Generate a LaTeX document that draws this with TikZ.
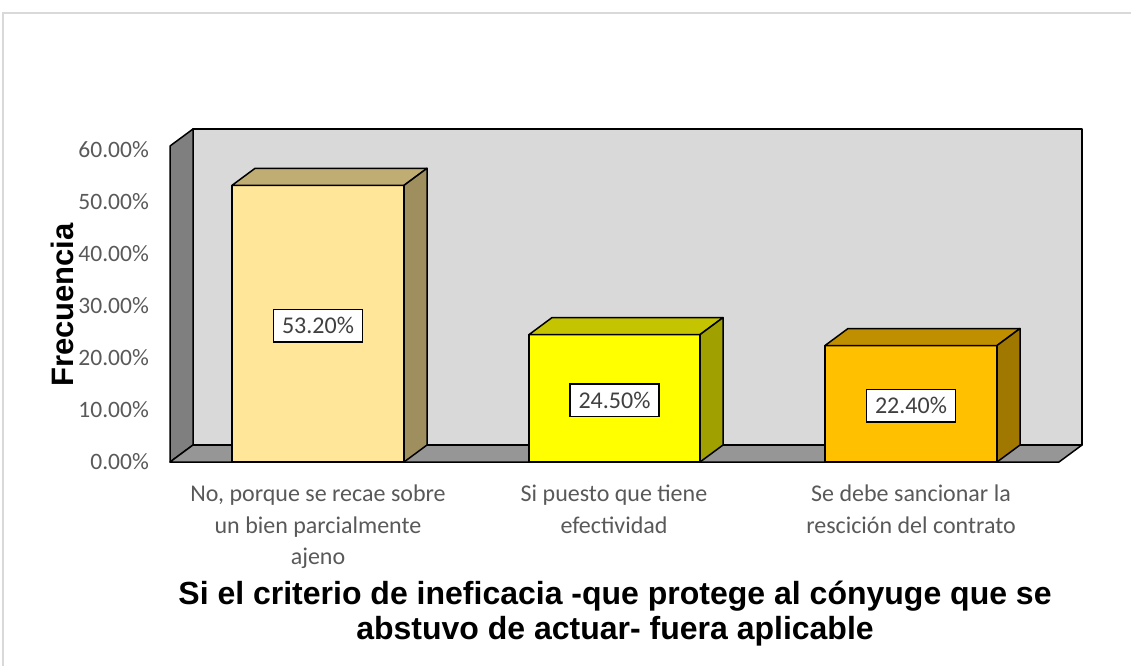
\documentclass[tikz,border=0pt]{standalone}
\usepackage{fontspec}
\setmainfont{Carlito}
\newfontfamily\arial{Liberation Sans}
\definecolor{marco}{HTML}{D9D9D9}
\definecolor{fondo}{HTML}{D9D9D9}
\definecolor{lateral}{HTML}{7F7F7F}
\definecolor{piso}{HTML}{969696}
\definecolor{gris}{HTML}{595959}
\definecolor{oscuro}{HTML}{404040}
\definecolor{unoF}{HTML}{FFE699}\definecolor{unoT}{HTML}{BFAD73}\definecolor{unoL}{HTML}{A08F5E}
\definecolor{dosF}{HTML}{FFFF00}\definecolor{dosT}{HTML}{C4C400}\definecolor{dosL}{HTML}{A0A000}
\definecolor{tresF}{HTML}{FFC000}\definecolor{tresT}{HTML}{C08F00}\definecolor{tresL}{HTML}{A07800}
\tikzset{
  borde/.style={draw=black,line width=1.5pt,line join=round},
  eje/.style={font=\fontsize{23.5}{28}\selectfont,text=gris,inner sep=0pt},
  cat/.style={font=\fontsize{24}{31.5}\selectfont,text=gris,align=center,inner sep=0pt},
  valor/.style={draw=black,line width=1.6pt,fill=white,text=oscuro,font=\fontsize{24}{28}\selectfont,inner xsep=8.5pt,inner ysep=8pt},
  titulo/.style={font=\arial\bfseries\fontsize{32}{35}\selectfont,align=center,inner sep=0pt}
}
\begin{document}
\begin{tikzpicture}[x=1pt,y=-1pt]
\useasboundingbox (0,0) rectangle (1131,666);
\draw[marco,line width=1.5pt] (3,666) -- (3,13) -- (1131,13); % borde del grafico
% paredes y piso
\draw[borde,fill=fondo] (193,129) rectangle (1082,445);
\draw[borde,fill=lateral] (170,146) -- (193,129) -- (193,445) -- (170,462) -- cycle;
\draw[borde,fill=piso] (170,462) -- (193,445) -- (1082,445) -- (1059,462) -- cycle;
% eje y
\foreach \v in {0,10,...,60} \node[eje,anchor=east] (t\v) at (149,{462-5.2*\v}) {\v.00\%};
\node[titulo,rotate=90,font=\arial\bfseries\fontsize{31}{35}\selectfont] (ejey) at (62,305) {Frecuencia};
% barras
\foreach \n/\xa/\xb/\v/\c in {1/232/404/53.20/uno,2/529/700/24.50/dos,3/825/997/22.40/tres}{
  \pgfmathsetmacro\yt{462-5.2*\v}
  \draw[borde,fill=\c F] (\xa,462) rectangle (\xb,\yt);
  \draw[borde,fill=\c T] (\xa,\yt) -- ++(23,-17) -- (\xb+23,\yt-17) -- (\xb,\yt) -- cycle;
  \draw[borde,fill=\c L] (\xb,\yt) -- (\xb+23,\yt-17) -- (\xb+23,445) -- (\xb,462) -- cycle;
  \node[valor] (v\n) at ({(\xa+\xb)/2},{(462+\yt)/2+2}) {\v\%};
}
% categorias
\node[cat,anchor=north] (c1) at (318,485) {No, porque se recae sobre\\un bien parcialmente\\ajeno};
\node[cat,anchor=north] (c2) at (614,485) {Si puesto que tiene\\efectividad};
\node[cat,anchor=north] (c3) at (911,485) {Se debe sancionar la\\rescición del contrato};
\node[titulo,anchor=north] (tit) at (615,581) {Si el criterio de ineficacia -que protege al cónyuge que se\\abstuvo de actuar- fuera aplicable};
\end{tikzpicture}
\end{document}
